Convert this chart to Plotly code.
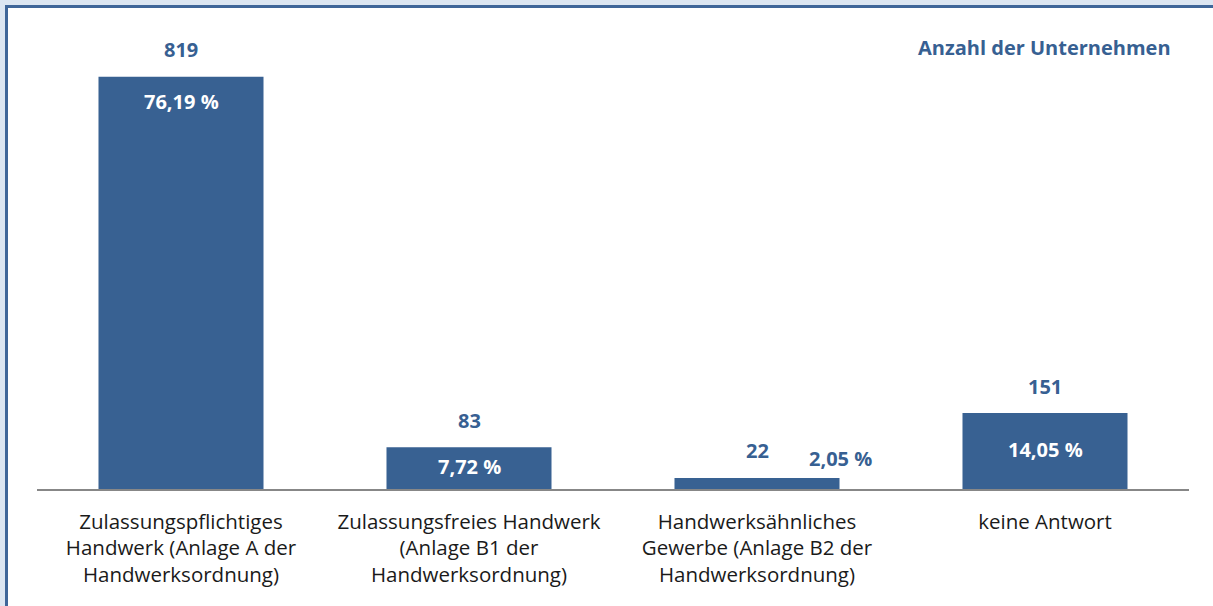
import plotly.graph_objects as go

categories = [
    "Zulassungspflichtiges<br>Handwerk (Anlage A der<br>Handwerksordnung)",
    "Zulassungsfreies Handwerk<br>(Anlage B1 der<br>Handwerksordnung)",
    "Handwerksähnliches<br>Gewerbe (Anlage B2 der<br>Handwerksordnung)",
    "keine Antwort",
]
counts = [819, 83, 22, 151]
percent_labels = ["76,19 %", "7,72 %", "2,05 %", "14,05 %"]
unit_label = "Anzahl der Unternehmen"

BAR = "#386192"
TXT = "#376092"
FONT = "Open Sans"

# pixel -> paper helpers (plot area: x 37..1189, y 36..489)
L, R, T, B = 37, 24, 36, 117
W, H = 1213, 606
PW, PH = W - L - R, H - T - B
def px(x):
    return (x - L) / PW
def py(y):
    return (H - B - y) / PH

fig = go.Figure()
fig.add_trace(go.Bar(
    x=list(range(len(categories))), y=counts,
    marker=dict(color=BAR, line=dict(width=0)),
    width=0.573, hoverinfo="skip",
))

# frame
fig.add_shape(type="rect", xref="paper", yref="paper",
              x0=px(6.5), x1=px(1240), y0=py(6.5), y1=py(640),
              line=dict(color="#3F6699", width=3), fillcolor="white", layer="below")

annotations = []
for i, (v, p) in enumerate(zip(counts, percent_labels)):
    annotations.append(dict(x=i, y=v, xref="x", yref="y", text=f"<b>{v}</b>",
                            showarrow=False, yshift=27, yanchor="middle",
                            font=dict(family=FONT, size=20, color=TXT)))
    if i == 0:
        annotations.append(dict(x=i, y=v, xref="x", yref="y", text=f"<b>{p}</b>",
                                showarrow=False, yshift=-25, yanchor="middle",
                                font=dict(family=FONT, size=20, color="white")))
    elif v < 50:
        annotations.append(dict(x=i + 0.29, y=v, xref="x", yref="y", text=f"<b>{p}</b>",
                                showarrow=False, yshift=19, yanchor="middle",
                                font=dict(family=FONT, size=20, color=TXT)))
    else:
        annotations.append(dict(x=i, y=v / 2, xref="x", yref="y", text=f"<b>{p}</b>",
                                showarrow=False, yshift=2, yanchor="middle",
                                font=dict(family=FONT, size=20, color="white")))

annotations.append(dict(x=px(1173), y=py(47), xref="paper", yref="paper",
                        text=f"<b>{unit_label}</b>", showarrow=False,
                        xanchor="right", yanchor="middle",
                        font=dict(family=FONT, size=20, color=TXT)))

fig.update_layout(
    width=W, height=H,
    margin=dict(l=L, r=R, t=T, b=B, pad=0),
    paper_bgcolor="#DCE6F2", plot_bgcolor="rgba(0,0,0,0)",
    showlegend=False,
    bargap=0.427,
    annotations=annotations,
    font=dict(family=FONT, size=20, color="#1a1a1a"),
)
fig.update_xaxes(
    tickmode="array", tickvals=list(range(len(categories))), ticktext=categories,
    range=[-0.5, len(categories) - 0.5],
    showline=True, linecolor="#878787", linewidth=2,
    ticks="outside", ticklen=13, tickcolor="rgba(0,0,0,0)",
    showgrid=False, zeroline=False,
    tickfont=dict(family=FONT, size=20.5, color="#1a1a1a"),
)
fig.update_yaxes(range=[0, 900], visible=False, showgrid=False, zeroline=False)

fig.write_html("out.html", config={"displayModeBar": False},
               post_script="document.body.style.margin='0';")
